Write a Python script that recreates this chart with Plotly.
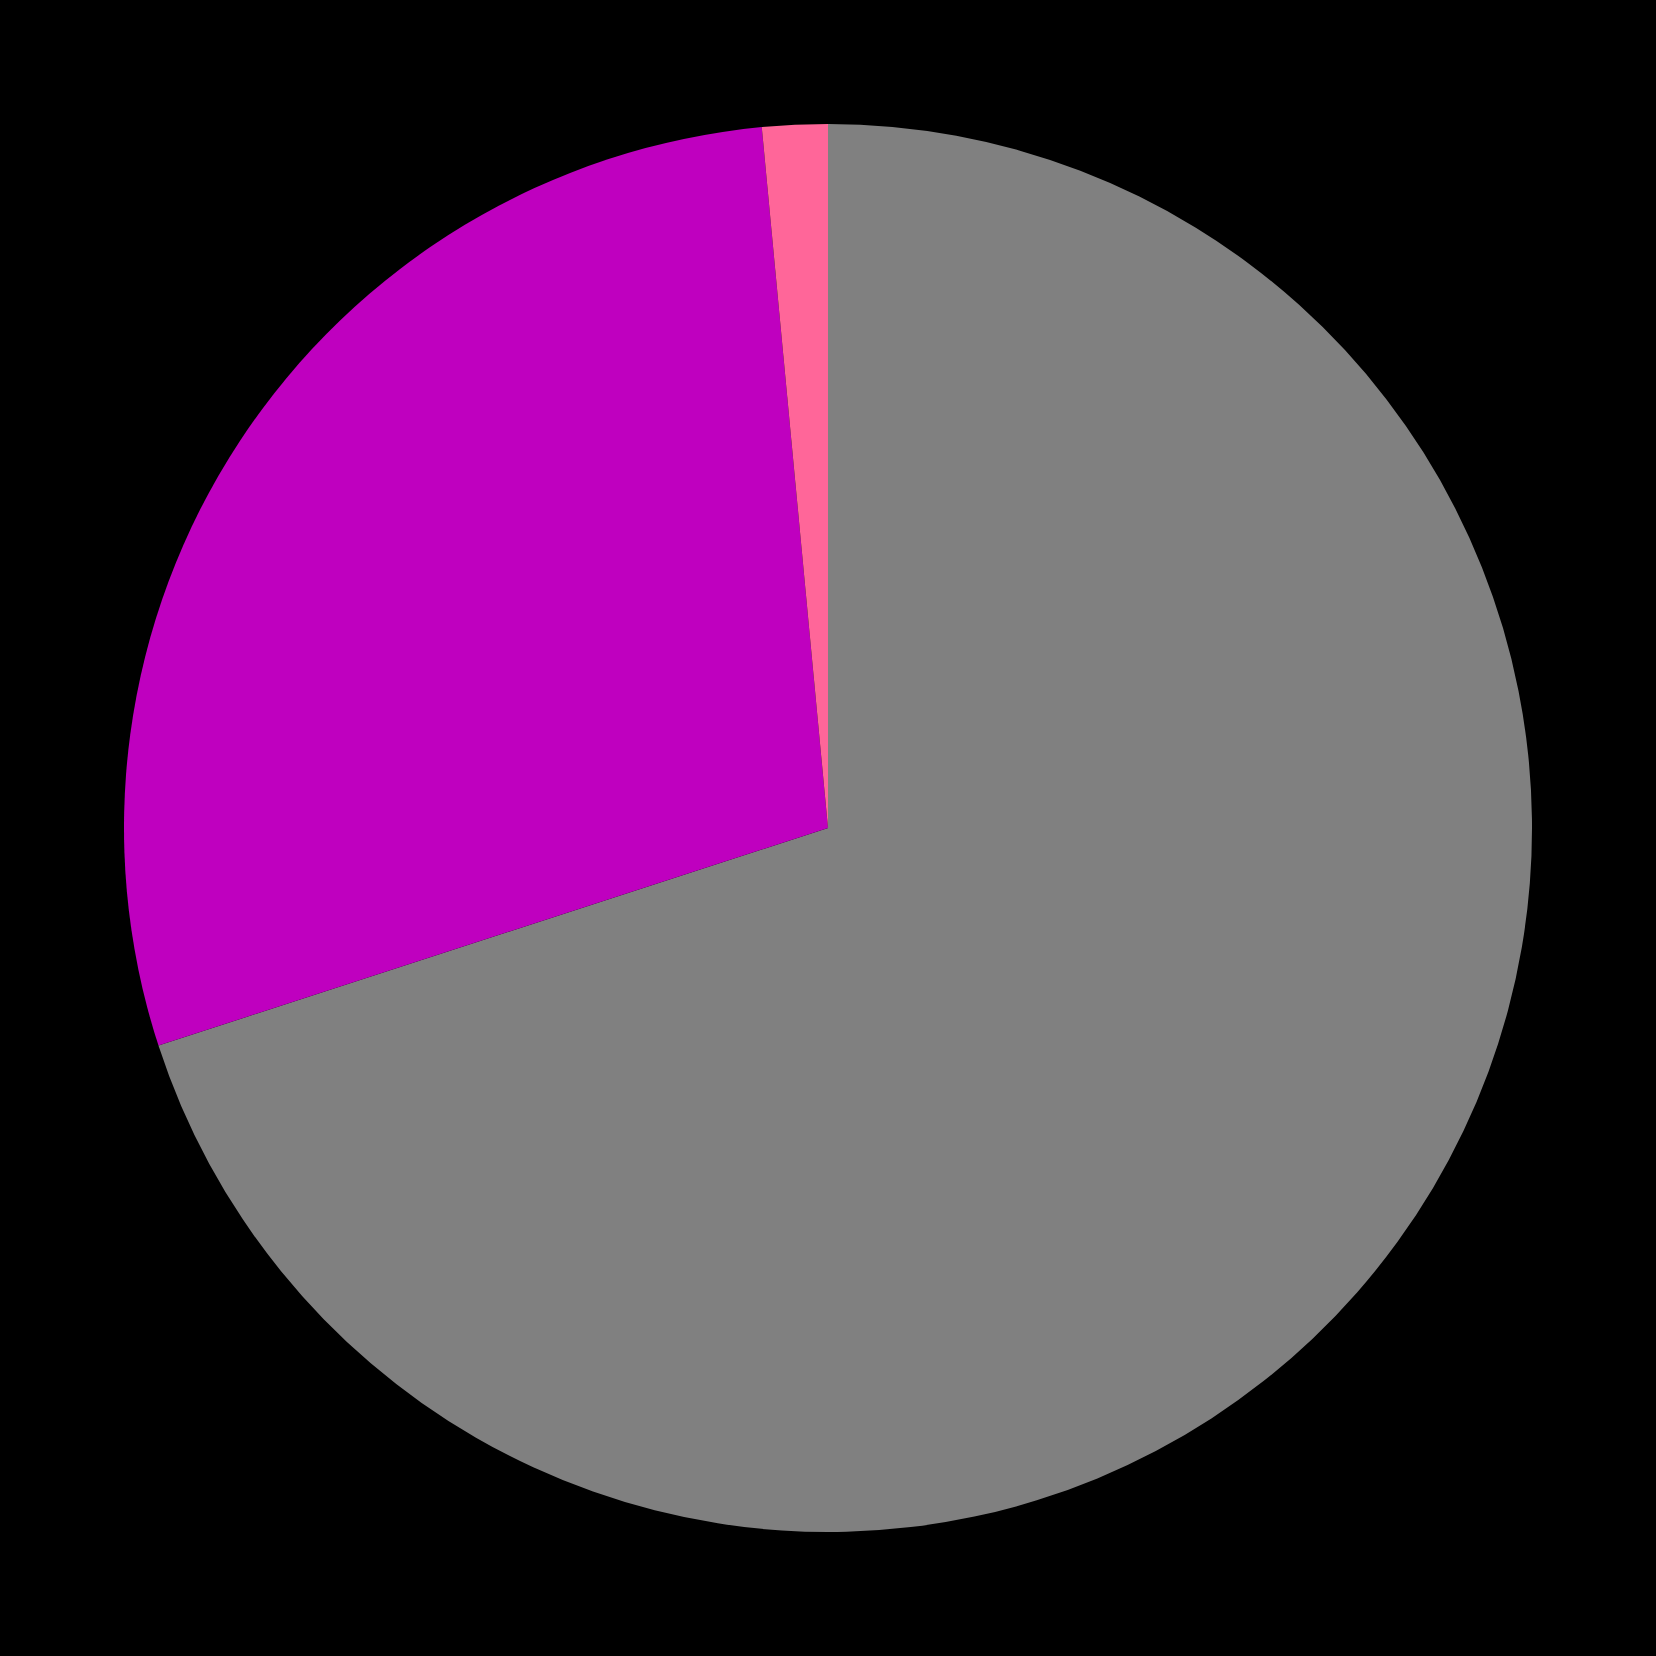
import plotly.graph_objects as go

labels = ["Gray", "Magenta", "Pink"]
values = [70.0, 28.5, 1.5]
colors = ["#808080", "#bf00bf", "#ff6699"]

fig = go.Figure(go.Pie(
    labels=labels,
    values=values,
    sort=False,
    direction="clockwise",
    rotation=0,
    marker=dict(colors=colors, line=dict(width=0)),
    textinfo="none",
    hoverinfo="label+percent",
    showlegend=False,
))

fig.update_layout(
    width=1656,
    height=1656,
    paper_bgcolor="black",
    plot_bgcolor="black",
    margin=dict(l=124, r=124, t=124, b=124),
    showlegend=False,
)

fig.write_html("out.html")
